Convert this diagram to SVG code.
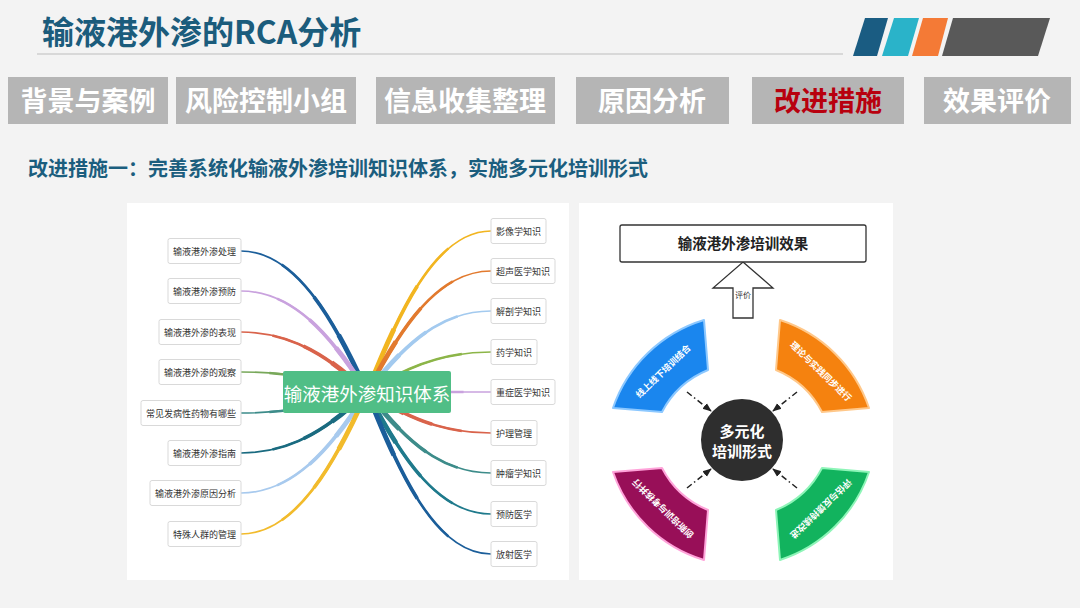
<svg xmlns="http://www.w3.org/2000/svg" xmlns:xlink="http://www.w3.org/1999/xlink" width="1080" height="608" viewBox="0 0 1080 608">
<style>
text{font-family:"Noto Sans CJK SC","Noto Sans",sans-serif}
.tab{fill:#b5b5b5}
.tabt{font-size:27px;font-weight:700;fill:#ffffff;text-anchor:middle}
.box{fill:#ffffff;stroke:#d9d9d9;stroke-width:1}
.bt{font-size:9px;fill:#333333;text-anchor:middle;dominant-baseline:central}
.t1{fill:none;stroke-width:1.7;stroke-linecap:round}
.t2{fill:none;stroke-width:2.6;stroke-dasharray:0 22 78}
.t3{fill:none;stroke-width:3.6;stroke-dasharray:0 45 55}
.t4{fill:none;stroke-width:4.8;stroke-dasharray:0 68 32}
.seg{stroke-width:2;stroke-linejoin:round}
.st{font-size:9px;font-weight:700;fill:#ffffff;text-anchor:middle;dominant-baseline:central}
.dash{fill:none;stroke:#222222;stroke-width:1.5;stroke-dasharray:6 3 1.5 3}
</style>
<defs>
<marker id="ah" viewBox="0 0 10 10" refX="9" refY="5" markerWidth="6" markerHeight="6" orient="auto"><path d="M0,1 L10,5 L0,9 z" fill="#222222"/></marker>
<path id="L1" pathLength="100" d="M241,251 C296,251 335,321.5 367,392"/>
<path id="L2" pathLength="100" d="M241,291 C296,291 335,341.5 367,392"/>
<path id="L3" pathLength="100" d="M241,332 C296,332 335,362 367,392"/>
<path id="L4" pathLength="100" d="M241,372 C296,372 335,382 367,392"/>
<path id="L5" pathLength="100" d="M241,413 C296,413 335,402.5 367,392"/>
<path id="L6" pathLength="100" d="M241,453 C296,453 335,422.5 367,392"/>
<path id="L7" pathLength="100" d="M241,493 C296,493 335,442.5 367,392"/>
<path id="L8" pathLength="100" d="M241,534 C296,534 335,463 367,392"/>
<path id="R1" pathLength="100" d="M491,231 C436,231 399,311.5 367,392"/>
<path id="R2" pathLength="100" d="M491,271 C436,271 399,331.5 367,392"/>
<path id="R3" pathLength="100" d="M491,311 C436,311 399,351.5 367,392"/>
<path id="R4" pathLength="100" d="M491,352 C436,352 399,372 367,392"/>
<path id="R5" pathLength="100" d="M491,392 C436,392 399,392 367,392"/>
<path id="R6" pathLength="100" d="M491,433 C436,433 399,412.5 367,392"/>
<path id="R7" pathLength="100" d="M491,473 C436,473 399,432.5 367,392"/>
<path id="R8" pathLength="100" d="M491,514 C436,514 399,453 367,392"/>
<path id="R9" pathLength="100" d="M491,554 C436,554 399,473 367,392"/>
</defs>

<rect x="0" y="0" width="1080" height="608" fill="#f3f3f3"/>

<g id="header">
<text x="42" y="44" font-size="32" font-weight="700" fill="#1b5c7c">输液港外渗的RCA分析</text>
<line x1="37" y1="54" x2="843" y2="54" stroke="#cfcfcf" stroke-width="1.5"/>
<polygon points="853,56 865,18 888,18 877,56" fill="#1a5c82"/>
<polygon points="882,56 894,18 919,18 908,56" fill="#2ab3c9"/>
<polygon points="912,56 923,18 948,18 938,56" fill="#f47a36"/>
<polygon points="942,56 953,18 1050,18 1038,56" fill="#595959"/>
</g>

<g id="tabs">
<rect class="tab" x="8" y="77" width="160" height="47"/>
<text class="tabt" x="88" y="111">背景与案例</text>
<rect class="tab" x="176" y="77" width="180" height="47"/>
<text class="tabt" x="266" y="111">风险控制小组</text>
<rect class="tab" x="376" y="77" width="179" height="47"/>
<text class="tabt" x="465" y="111">信息收集整理</text>
<rect class="tab" x="576" y="77" width="153" height="47"/>
<text class="tabt" x="652" y="111">原因分析</text>
<rect class="tab" x="752" y="77" width="152" height="47"/>
<text class="tabt" x="828" y="111" style="fill:#b8000e">改进措施</text>
<rect class="tab" x="924" y="77" width="147" height="47"/>
<text class="tabt" x="997" y="111">效果评价</text>
</g>

<text id="subtitle" x="28" y="176" font-size="20" font-weight="700" fill="#1b5e7e">改进措施一：完善系统化输液外渗培训知识体系，实施多元化培训形式</text>

<rect x="127" y="203" width="442" height="377" fill="#ffffff"/>
<rect x="579" y="203" width="314" height="377" fill="#ffffff"/>

<g id="connectors">
<g stroke="#1b5e9a"><use xlink:href="#L1" class="t1"/><use xlink:href="#L1" class="t2"/><use xlink:href="#L1" class="t3"/><use xlink:href="#L1" class="t4"/></g>
<g stroke="#c9a2de"><use xlink:href="#L2" class="t1"/><use xlink:href="#L2" class="t2"/><use xlink:href="#L2" class="t3"/><use xlink:href="#L2" class="t4"/></g>
<g stroke="#d9634b"><use xlink:href="#L3" class="t1"/><use xlink:href="#L3" class="t2"/><use xlink:href="#L3" class="t3"/><use xlink:href="#L3" class="t4"/></g>
<g stroke="#78a85a"><use xlink:href="#L4" class="t1"/><use xlink:href="#L4" class="t2"/></g>
<g stroke="#3d8c8a"><use xlink:href="#L5" class="t1"/><use xlink:href="#L5" class="t2"/></g>
<g stroke="#1a6b80"><use xlink:href="#L6" class="t1"/><use xlink:href="#L6" class="t2"/><use xlink:href="#L6" class="t3"/><use xlink:href="#L6" class="t4"/></g>
<g stroke="#a8caee"><use xlink:href="#L7" class="t1"/><use xlink:href="#L7" class="t2"/><use xlink:href="#L7" class="t3"/><use xlink:href="#L7" class="t4"/></g>
<g stroke="#f2bb2c"><use xlink:href="#L8" class="t1"/><use xlink:href="#L8" class="t2"/><use xlink:href="#L8" class="t3"/><use xlink:href="#L8" class="t4"/></g>
<g stroke="#f2b520"><use xlink:href="#R1" class="t1"/><use xlink:href="#R1" class="t2"/><use xlink:href="#R1" class="t3"/><use xlink:href="#R1" class="t4"/></g>
<g stroke="#e27a2e"><use xlink:href="#R2" class="t1"/><use xlink:href="#R2" class="t2"/><use xlink:href="#R2" class="t3"/><use xlink:href="#R2" class="t4"/></g>
<g stroke="#a3caef"><use xlink:href="#R3" class="t1"/><use xlink:href="#R3" class="t2"/><use xlink:href="#R3" class="t3"/><use xlink:href="#R3" class="t4"/></g>
<g stroke="#8cb548"><use xlink:href="#R4" class="t1"/><use xlink:href="#R4" class="t2"/></g>
<g stroke="#c9a2de"><use xlink:href="#R5" class="t1"/><use xlink:href="#R5" class="t2"/></g>
<g stroke="#d9634b"><use xlink:href="#R6" class="t1"/><use xlink:href="#R6" class="t2"/><use xlink:href="#R6" class="t3"/><use xlink:href="#R6" class="t4"/></g>
<g stroke="#3d8c8a"><use xlink:href="#R7" class="t1"/><use xlink:href="#R7" class="t2"/><use xlink:href="#R7" class="t3"/><use xlink:href="#R7" class="t4"/></g>
<g stroke="#1f7a8c"><use xlink:href="#R8" class="t1"/><use xlink:href="#R8" class="t2"/><use xlink:href="#R8" class="t3"/><use xlink:href="#R8" class="t4"/></g>
<g stroke="#1b5e9a"><use xlink:href="#R9" class="t1"/><use xlink:href="#R9" class="t2"/><use xlink:href="#R9" class="t3"/><use xlink:href="#R9" class="t4"/></g>

<path class="dash" d="M687,392 L711,411" marker-end="url(#ah)"/>
<path class="dash" d="M797,392 L773,411" marker-end="url(#ah)"/>
<path class="dash" d="M687,488 L711,469" marker-end="url(#ah)"/>
<path class="dash" d="M797,488 L773,469" marker-end="url(#ah)"/>

<g id="eval-arrow">
<polygon points="743,262 773,288 753,288 753,318 733,318 733,288 713,288" fill="#ffffff" stroke="#333333" stroke-width="1.3" stroke-linejoin="miter"/>
<text x="743" y="298" font-size="8" fill="#333333" text-anchor="middle">评价</text>
</g>
</g>

<g id="center-node">
<rect x="283" y="371" width="168" height="42" rx="2" fill="#50be86"/>
<text x="367" y="393" font-size="18.5" fill="#ffffff" text-anchor="middle" dominant-baseline="central">输液港外渗知识体系</text>
</g>

<g id="n-l1"><rect class="box" x="168" y="238.5" width="73" height="25" rx="2"/><text class="bt" x="204.5" y="251">输液港外渗处理</text></g>
<g id="n-l2"><rect class="box" x="168" y="278.5" width="73" height="25" rx="2"/><text class="bt" x="204.5" y="291">输液港外渗预防</text></g>
<g id="n-l3"><rect class="box" x="159" y="319.5" width="82" height="25" rx="2"/><text class="bt" x="200" y="332">输液港外渗的表现</text></g>
<g id="n-l4"><rect class="box" x="159" y="359.5" width="82" height="25" rx="2"/><text class="bt" x="200" y="372">输液港外渗的观察</text></g>
<g id="n-l5"><rect class="box" x="141" y="400.5" width="100" height="25" rx="2"/><text class="bt" x="191" y="413">常见发病性药物有哪些</text></g>
<g id="n-l6"><rect class="box" x="168" y="440.5" width="73" height="25" rx="2"/><text class="bt" x="204.5" y="453">输液港外渗指南</text></g>
<g id="n-l7"><rect class="box" x="150" y="480.5" width="91" height="25" rx="2"/><text class="bt" x="195.5" y="493">输液港外渗原因分析</text></g>
<g id="n-l8"><rect class="box" x="168" y="521.5" width="73" height="25" rx="2"/><text class="bt" x="204.5" y="534">特殊人群的管理</text></g>

<g id="n-r1"><rect class="box" x="491" y="218.5" width="55" height="25" rx="2"/><text class="bt" x="518.5" y="231">影像学知识</text></g>
<g id="n-r2"><rect class="box" x="491" y="258.5" width="64" height="25" rx="2"/><text class="bt" x="523" y="271">超声医学知识</text></g>
<g id="n-r3"><rect class="box" x="491" y="298.5" width="55" height="25" rx="2"/><text class="bt" x="518.5" y="311">解剖学知识</text></g>
<g id="n-r4"><rect class="box" x="491" y="339.5" width="46" height="25" rx="2"/><text class="bt" x="514" y="352">药学知识</text></g>
<g id="n-r5"><rect class="box" x="491" y="379.5" width="64" height="25" rx="2"/><text class="bt" x="523" y="392">重症医学知识</text></g>
<g id="n-r6"><rect class="box" x="491" y="420.5" width="46" height="25" rx="2"/><text class="bt" x="514" y="433">护理管理</text></g>
<g id="n-r7"><rect class="box" x="491" y="460.5" width="55" height="25" rx="2"/><text class="bt" x="518.5" y="473">肿瘤学知识</text></g>
<g id="n-r8"><rect class="box" x="491" y="501.5" width="46" height="25" rx="2"/><text class="bt" x="514" y="514">预防医学</text></g>
<g id="n-r9"><rect class="box" x="491" y="541.5" width="46" height="25" rx="2"/><text class="bt" x="514" y="554">放射医学</text></g>

<g id="n-effect">
<rect x="620" y="225" width="246" height="37" rx="2" fill="#ffffff" stroke="#333333" stroke-width="1.3"/>
<text x="743" y="249" font-size="14.5" font-weight="700" fill="#222222" text-anchor="middle">输液港外渗培训效果</text>
</g>

<g id="seg-blue">
<path class="seg" d="M613,408 A139,139 0 0 1 704,320 L708,370 A90,90 0 0 0 662,412 Z" fill="#1a86ee" stroke="#8cc8ff"/>
<text class="st" transform="translate(663,371) rotate(-44)">线上线下培训结合</text>
</g>
<g id="seg-orange">
<path class="seg" d="M869,408 A139,139 0 0 0 780,320 L776,370 A90,90 0 0 1 822,412 Z" fill="#f5820f" stroke="#ffc88a"/>
<text class="st" transform="translate(821,371) rotate(44)">理论与实践同步进行</text>
</g>
<g id="seg-purple">
<path class="seg" d="M613,472 A139,139 0 0 0 704,560 L708,510 A90,90 0 0 1 662,468 Z" fill="#980f58" stroke="#ffa3da"/>
<text class="st" transform="translate(663,509) rotate(-136)">创新培训与考核并行</text>
</g>
<g id="seg-green">
<path class="seg" d="M869,472 A139,139 0 0 1 780,560 L776,510 A90,90 0 0 0 822,468 Z" fill="#12b35e" stroke="#8ef5b8"/>
<text class="st" transform="translate(821,509) rotate(136)">评估与反馈持续改进</text>
</g>

<g id="n-hub">
<circle cx="742" cy="440" r="41" fill="#2e2e2e"/>
<text x="742" y="437" font-size="15" font-weight="700" fill="#ffffff" text-anchor="middle">多元化</text>
<text x="742" y="457" font-size="15" font-weight="700" fill="#ffffff" text-anchor="middle">培训形式</text>
</g>
</svg>
